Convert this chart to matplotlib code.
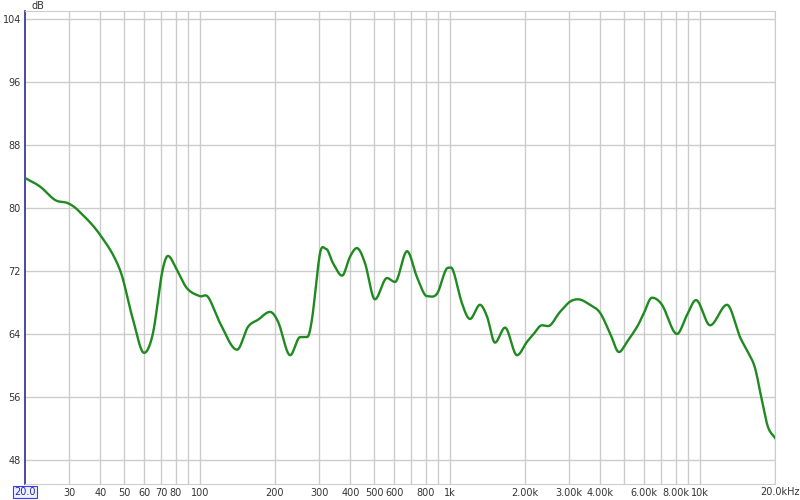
import numpy as np
import matplotlib
matplotlib.use("Agg")
import matplotlib.pyplot as plt

# frequency response (Hz, dB)
freq = [20, 23.0, 26.4, 29.7, 32.6, 39.9, 48.0, 54.1, 59.9, 65.0, 70.6, 74.6, 81.1,
        88.9, 100, 107.9, 120.5, 141, 156, 171, 191, 206, 230, 252, 269, 281, 303,
        320, 341, 371, 399, 425, 458, 502, 561, 604, 675, 740, 811, 889, 984, 1030,
        1119, 1205, 1321, 1410, 1517, 1664, 1858, 2037, 2153, 2339, 2472, 2761,
        3028, 3259, 3640, 3990, 4376, 4753, 5118, 5613, 5931, 6442, 7063, 8110,
        8891, 9661, 11000, 12850, 14490, 15590, 16630, 17720, 18740, 20000]
db = [83.8, 82.7, 81.0, 80.6, 79.7, 76.6, 72.1, 65.8, 61.6, 64.1, 71.7, 73.9, 72.1,
      69.8, 68.8, 68.7, 65.4, 62.0, 64.9, 65.8, 66.8, 65.5, 61.3, 63.6, 63.6, 65.8,
      74.3, 74.8, 73.0, 71.4, 73.8, 74.9, 73.0, 68.4, 71.1, 70.6, 74.5, 71.2, 68.8,
      69.1, 72.4, 72.1, 67.9, 65.9, 67.7, 66.2, 62.9, 64.8, 61.3, 63.0, 63.9, 65.1,
      65.0, 66.8, 68.1, 68.4, 67.7, 66.7, 64.1, 61.7, 63.0, 64.9, 66.4, 68.6, 67.7,
      64.0, 66.4, 68.3, 65.1, 67.7, 63.6, 61.7, 59.7, 55.6, 52.2, 50.8]

grid_f = [20, 30, 40, 50, 60, 70, 80, 90, 100, 200, 300, 400, 500, 600, 700, 800, 900,
          1000, 2000, 3000, 4000, 5000, 6000, 7000, 8000, 9000, 10000, 20000]
grid_lab = ["", "30", "40", "50", "60", "70", "80", "", "100", "200", "300", "400",
            "500", "600", "", "800", "", "1k", "2.00k", "3.00k", "4.00k", "", "6.00k",
            "", "8.00k", "", "10k", ""]
db_ticks = [48, 56, 64, 72, 80, 88, 96, 104]

# smooth curve through the read points (cubic Hermite in log-f)
lx = np.log10(freq)
y = np.array(db)
xs = np.linspace(lx[0], lx[-1], 2000)
h = np.diff(lx)
d = np.diff(y) / h
m = np.zeros_like(y)
m[0], m[-1] = d[0], d[-1]
for i in range(1, len(y) - 1):
    if d[i - 1] * d[i] <= 0:
        m[i] = 0.0
    else:
        m[i] = (y[i + 1] - y[i - 1]) / (lx[i + 1] - lx[i - 1])
idx = np.clip(np.searchsorted(lx, xs) - 1, 0, len(lx) - 2)
t = (xs - lx[idx]) / h[idx]
h00 = 2 * t**3 - 3 * t**2 + 1
h10 = t**3 - 2 * t**2 + t
h01 = -2 * t**3 + 3 * t**2
h11 = t**3 - t**2
ys = h00 * y[idx] + h10 * h[idx] * m[idx] + h01 * y[idx + 1] + h11 * h[idx] * m[idx + 1]

fig = plt.figure(figsize=(8, 5), dpi=100)
ax = fig.add_axes([25 / 800, 16 / 500, 750 / 800, 473 / 500])
ax.set_xscale("log")
ax.set_xlim(20, 20000)
ax.set_ylim(44.95, 105)

gc = "#cccccc"
for f in grid_f[1:]:
    ax.axvline(f, color=gc, lw=1, zorder=1)
for v in db_ticks:
    ax.axhline(v, color=gc, lw=1, zorder=1)

ax.plot(10**xs, ys, color="#1f8a1f", lw=1.7, zorder=3)
ax.plot([20000, 20000], [48, db[-1]], color="#1f8a1f", lw=0.6, ls=":", zorder=3)

ax.set_xticks(grid_f)
ax.set_xticklabels(grid_lab)
ax.xaxis.set_minor_locator(matplotlib.ticker.NullLocator())
ax.set_yticks(db_ticks)
ax.set_yticklabels([str(v) for v in db_ticks])
ax.tick_params(axis="both", length=0, labelsize=7, colors="#333333")
ax.tick_params(axis="x", pad=3)
ax.tick_params(axis="y", pad=3)

for s in ["top", "right", "bottom"]:
    ax.spines[s].set_color(gc)
ax.spines["left"].set_color("#2a2a9a")
ax.spines["left"].set_linewidth(1.2)

fig.text(38 / 800, 1 - 6 / 500, "dB", fontsize=7, color="#333333", ha="center", va="center")
fig.text(25 / 800, 1 - 492 / 500, "20.0", fontsize=7, color="#2a2a9a", ha="center", va="center",
         bbox=dict(boxstyle="square,pad=0.15", fc="#eef0ff", ec="#3a3aff", lw=0.8))
fig.text(780 / 800, 1 - 492 / 500, "20.0kHz", fontsize=7, color="#333333", ha="center", va="center")

fig.savefig("out.png", dpi=100, facecolor="white")
